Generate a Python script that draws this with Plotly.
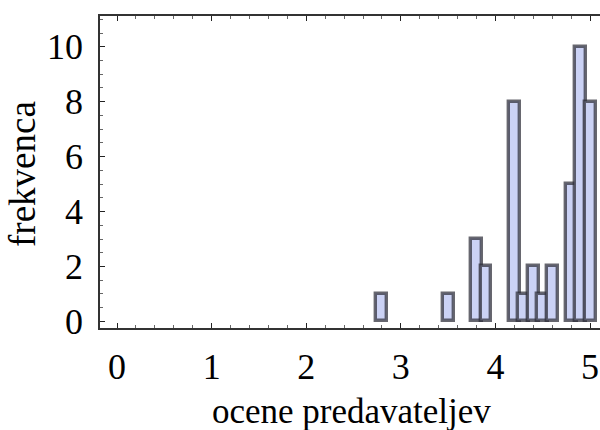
import plotly.graph_objects as go

ratings = [2.8, 3.5, 3.8, 3.9, 4.2, 4.3, 4.4, 4.5, 4.6, 4.8, 4.9, 5.0]
counts = [1, 1, 3, 2, 8, 1, 2, 1, 2, 5, 10, 8]
x_ticks = [0, 1, 2, 3, 4, 5]
y_ticks = [0, 2, 4, 6, 8, 10]

fig = go.Figure()
fig.add_trace(go.Bar(
    x=ratings, y=counts, width=0.115,
    marker=dict(color="rgb(203,210,245)",
                line=dict(color="rgba(45,45,55,0.72)", width=3.4)),
))

font = "Liberation Serif"
FW, FH = 600, 430
L, T, W, H = 100, 16, 500, 312
fig.update_layout(
    width=FW, height=FH,
    margin=dict(l=L, r=FW - L - W, t=T, b=FH - T - H),
    paper_bgcolor="white", plot_bgcolor="white",
    showlegend=False, bargap=0,
    font=dict(family=font, color="black"),
    xaxis=dict(range=[-0.18, 5.105], tickvals=x_ticks, ticks="inside", ticklen=5,
               tickwidth=1.2, tickcolor="#222", showline=True, linecolor="#333",
               linewidth=1.5, mirror="ticks", showgrid=False, zeroline=False,
               automargin=False,
               tickfont=dict(size=36, family=font), ticklabelstandoff=6,
               minor=dict(dtick=0.2, ticks="inside", ticklen=3, tickcolor="#666")),
    yaxis=dict(range=[-0.24, 11.12], tickvals=y_ticks, ticks="inside", ticklen=5,
               tickwidth=1.2, tickcolor="#222", showline=True, linecolor="#333",
               linewidth=1.5, showgrid=False, zeroline=False, automargin=False,
               tickfont=dict(size=36, family=font), ticklabelstandoff=8,
               minor=dict(dtick=0.5, ticks="inside", ticklen=3, tickcolor="#666")),
    annotations=[
        dict(text="ocene predavateljev", xref="paper", yref="paper",
             x=(351 - L) / W, y=-(411 - (T + H)) / H, xanchor="center", yanchor="middle",
             showarrow=False, font=dict(size=35, family=font, color="black")),
        dict(text="frekvenca", xref="paper", yref="paper",
             x=-(L - 22) / W, y=((T + H) - 174) / H, xanchor="center", yanchor="middle",
             textangle=-90, showarrow=False, font=dict(size=37, family=font, color="black")),
    ],
)
fig.write_html(
    "out.html",
    config={"displayModeBar": False},
    post_script="document.body.style.margin='0';document.body.style.overflow='hidden';",
)
